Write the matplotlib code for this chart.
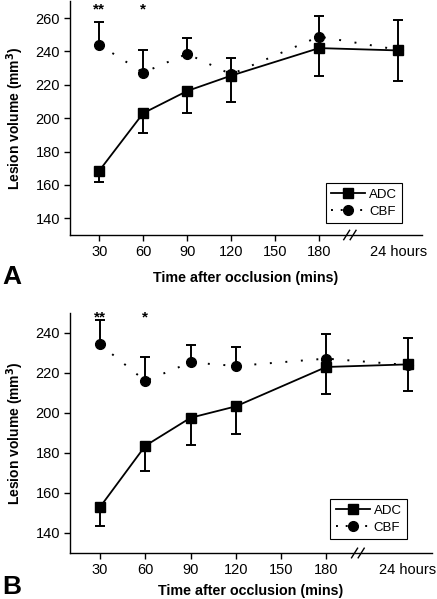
import matplotlib
matplotlib.use("Agg")
import matplotlib.pyplot as plt
import matplotlib.transforms as mtransforms
from matplotlib.lines import Line2D
import numpy as np

plt.rcParams['font.family'] = ['Liberation Sans', 'DejaVu Sans']

# ---- data ----
x_pos = [30, 60, 90, 120, 180, 234]          # 234 = position of "24 hours"
x_ticks = [30, 60, 90, 120, 150, 180, 234]
x_ticklabels = ['30', '60', '90', '120', '150', '180', '24 hours']

# Panel A
adc_A = [168.5, 203, 216.3, 225.5, 242, 240.6]
adc_A_err = [7, 11.6, 13.4, 15.6, 17, 18.2]
cbf_A = [244, 227.3, 238.6, 226.3, 248.9, 241]
cbf_A_err = [13.8, 13.7, 9.3, 9.5, 12.5, 18]

# Panel B
adc_B = [153, 183.6, 197.6, 203.3, 223, 224.3]
adc_B_err = [9.7, 12.4, 13.5, 14, 13.7, 13.4]
cbf_B = [234.3, 216, 225.3, 223.5, 227.2, 224]
cbf_B_err = [12, 12, 8.9, 9.3, 12.1, 13.5]

sig_x = [30, 60]
sig_labels = ['**', '*']

fig = plt.figure(figsize=(4.37, 5.99), dpi=100)
axA = fig.add_axes([0.160, 0.6077, 0.805, 0.390])
axB = fig.add_axes([0.160, 0.0768, 0.828, 0.4007])

DOT = (0, (1, 7))

def draw(ax, adc, adc_err, cbf, cbf_err, ylim, yticks, leg_anchor, sig_y, xpad):
    z = np.zeros(len(x_pos))
    ax.errorbar(x_pos, cbf, yerr=[z, cbf_err], color='black', marker='o',
                markersize=7, linestyle=DOT, linewidth=1.4,
                elinewidth=1.4, capsize=3.5, capthick=1.4, zorder=3)
    ax.errorbar(x_pos, adc, yerr=[adc_err, z], color='black', marker='s',
                markersize=7, linestyle='-', linewidth=1.3,
                elinewidth=1.4, capsize=3.5, capthick=1.4, zorder=4)
    ax.set_xlim(10, 250)
    ax.set_ylim(*ylim)
    ax.set_yticks(yticks)
    ax.set_xticks(x_ticks)
    ax.set_xticklabels(x_ticklabels)
    ax.xaxis.get_major_ticks()[-1].tick1line.set_visible(False)
    for s in ['top', 'right']:
        ax.spines[s].set_visible(False)
    ax.spines['left'].set_linewidth(1.0)
    ax.spines['bottom'].set_linewidth(1.0)
    ax.tick_params(labelsize=10.5, width=1.0, length=4, pad=3)
    ax.set_ylabel('Lesion volume (mm$^{\\mathbf{3}}$)', fontsize=10, fontweight='bold', labelpad=7)
    ax.set_xlabel('Time after occlusion (mins)', fontsize=10.3, fontweight='bold', labelpad=xpad)
    # axis break marks
    trans = mtransforms.blended_transform_factory(ax.transData, ax.transAxes)
    for dx in (-2.2, 2.2):
        ax.plot([201 + dx - 2.0, 201 + dx + 2.0], [-0.02, 0.02], color='black',
                lw=1.0, transform=trans, clip_on=False)
    # significance stars
    for sx, sl in zip(sig_x, sig_labels):
        ax.text(sx, sig_y, sl, ha='center', va='center', fontsize=11, fontweight='bold')
    # legend
    h = [Line2D([], [], color='black', marker='s', markersize=7, linestyle='-', linewidth=1.3),
         Line2D([], [], color='black', marker='o', markersize=7, linestyle=(0, (1, 4)), linewidth=1.4)]
    leg = ax.legend(h, ['ADC', 'CBF'], loc='lower right', bbox_to_anchor=leg_anchor,
                    borderaxespad=0, fancybox=False, edgecolor='black', fontsize=9.5,
                    handlelength=2.6, handletextpad=0.3, borderpad=0.4, labelspacing=0.4,
                    framealpha=1)
    leg.get_frame().set_linewidth(0.8)

draw(axA, adc_A, adc_A_err, cbf_A, cbf_A_err, (130, 270), [140, 160, 180, 200, 220, 240, 260],
     (0.945, 0.05), 265, 9)
draw(axB, adc_B, adc_B_err, cbf_B, cbf_B_err, (130, 250), [140, 160, 180, 200, 220, 240],
     (0.932, 0.057), 248, 5)

fig.text(0.005, 1 - 277 / 599, 'A', fontsize=19, fontweight='bold', va='center', ha='left')
fig.text(0.005, 1 - 587 / 599, 'B', fontsize=19, fontweight='bold', va='center', ha='left')

fig.savefig('out.png', dpi=100)
